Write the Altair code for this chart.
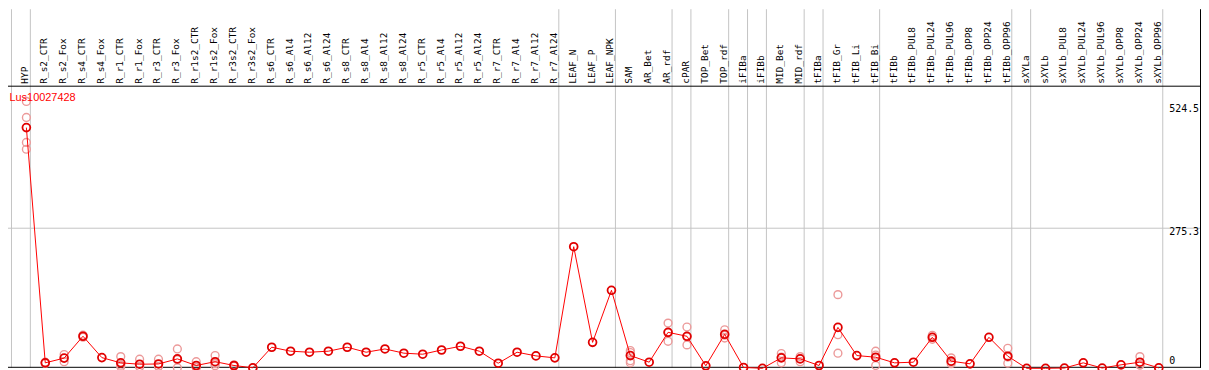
import altair as alt
import pandas as pd

gene = "Lus10027428"

categories = [
    "HYP", "R_s2_CTR", "R_s2_Fox", "R_s4_CTR", "R_s4_Fox", "R_r1_CTR", "R_r1_Fox",
    "R_r3_CTR", "R_r3_Fox", "R_r1s2_CTR", "R_r1s2_Fox", "R_r3s2_CTR", "R_r3s2_Fox",
    "R_s6_CTR", "R_s6_Al4", "R_s6_Al12", "R_s6_Al24", "R_s8_CTR", "R_s8_Al4",
    "R_s8_Al12", "R_s8_Al24", "R_r5_CTR", "R_r5_Al4", "R_r5_Al12", "R_r5_Al24",
    "R_r7_CTR", "R_r7_Al4", "R_r7_Al12", "R_r7_Al24", "LEAF_N", "LEAF_P", "LEAF_NPK",
    "SAM", "AR_Bet", "AR_rdf", "cPAR", "TOP_Bet", "TOP_rdf", "iFIBa", "iFIBb",
    "MID_Bet", "MID_rdf", "tFIBa", "tFIB_Gr", "tFIB_Li", "tFIB_Bi", "tFIBb",
    "tFIBb_PUL8", "tFIBb_PUL24", "tFIBb_PUL96", "tFIBb_OPP8", "tFIBb_OPP24",
    "tFIBb_OPP96", "sXYLa", "sXYLb", "sXYLb_PUL8", "sXYLb_PUL24", "sXYLb_PUL96",
    "sXYLb_OPP8", "sXYLb_OPP24", "sXYLb_OPP96",
]

means = [
    473.1, 10.7, 20, 63, 21, 10.7, 8, 8.5, 18.5, 5.5, 13, 5.5, 1,
    41.4, 33.6, 31.6, 33.6, 41.4, 31.6, 38, 29.7, 27.7, 36, 43.3, 33.6,
    10, 31.6, 24.4, 20.5, 239, 51, 153.3,
    25, 12, 70.7, 62.9, 4.9, 66.8, 1.6, 0, 20.5, 18.5, 5.5, 80.4, 25, 21.8, 10.7,
    12, 60.9, 14, 8.8, 60.9, 23.8, 0, 0, 0.5, 10.7, 0.5, 6.8, 12, 0.8,
]

rep_cat = (
    ["HYP"] * 4 + ["R_s2_CTR"] * 2 + ["R_s2_Fox"] * 2 + ["R_s4_CTR"] * 2
    + ["R_r1_CTR"] * 3 + ["R_r1_Fox"] * 3 + ["R_r3_CTR"] * 3 + ["R_r3_Fox"] * 3
    + ["R_r1s2_CTR"] * 3 + ["R_r1s2_Fox"] * 3 + ["R_r3s2_CTR"] * 2 + ["R_r3s2_Fox"]
    + ["SAM"] * 4 + ["AR_rdf"] * 3 + ["cPAR"] * 3 + ["TOP_rdf"] * 3
    + ["MID_Bet"] * 3 + ["MID_rdf"] * 3 + ["tFIB_Gr"] * 3 + ["tFIB_Bi"] * 3
    + ["tFIBb_PUL24"] * 3 + ["tFIBb_PUL96"] * 3 + ["tFIBb_OPP96"] * 3
    + ["sXYLb_OPP24"] * 3
)
rep_val = [
    524.5, 493, 444, 430.5,
    12, 9.5,
    27, 13,
    65, 61,
    23, 6, 3,
    18, 3, 3,
    18, 4, 3.5,
    38, 17, 1,
    13, 2, 1.5,
    25, 5, 9,
    7, 4,
    1,
    35, 31, 15, 11,
    88.8, 70, 53,
    81, 62, 46,
    75.8, 65, 59.5,
    29, 22, 10.7,
    23, 19, 13,
    144.8, 66, 29.7,
    33.6, 26, 5.5,
    64.8, 57, 61,
    20.5, 9, 12.5,
    39.4, 10, 22,
    23, 7, 6,
]

group_ends = [-1, 0, 28, 31, 34, 35, 37, 38, 39, 41, 42, 45, 52, 53, 60]
value_labels = ["524.5", "275.3", "0"]
value_label_pos = [524.5, 275.3, 0]
gridline_values = [275.3]

# ---------------------------------------------------------------------------
W, H = 1201, 362
step = 19.0
x0 = -18.5 / step
xs = alt.Scale(domain=[x0, x0 + W / step], nice=False, zero=False)
ppu = 0.5122
d0 = -0.5 / ppu
ys = alt.Scale(domain=[d0, d0 + H / ppu], nice=False, zero=False)

mean_df = pd.DataFrame({"cat": categories, "idx": list(range(len(categories))), "v": means})
idx_of = {c: i for i, c in enumerate(categories)}
rep_df = pd.DataFrame({"idx": [idx_of[c] for c in rep_cat], "v": rep_val})
sep_df = pd.DataFrame({"sx": [g + 4.0 / step for g in group_ends]})
grid_df = pd.DataFrame({"gv": gridline_values})
one = pd.DataFrame({"k": [0]})

X = lambda f: alt.X(f, type="quantitative", scale=xs, axis=None)
Y = lambda f: alt.Y(f, type="quantitative", scale=ys, axis=None)

base = alt.Chart(mean_df)
single = alt.Chart(one)

seps = alt.Chart(sep_df).mark_rule(color="#c4c4c4", strokeWidth=1).encode(
    x=X("sx"), y=alt.value(0), y2=alt.value(361)
)
grid = alt.Chart(grid_df).mark_rule(color="#c4c4c4", strokeWidth=1).encode(
    y=Y("gv"), x=alt.value(0), x2=alt.value(1200)
)
header_line = single.mark_rule(color="black", strokeWidth=1).encode(
    y=alt.value(77.5), x=alt.value(0), x2=alt.value(1201)
)
bottom_line = single.mark_rule(color="black", strokeWidth=1).encode(
    y=alt.value(360.5), x=alt.value(0), x2=alt.value(1201)
)
right_line = single.mark_rule(color="black", strokeWidth=1).encode(
    x=alt.value(1200.5), y=alt.value(0), y2=alt.value(361)
)

reps = alt.Chart(rep_df).mark_point(
    shape="circle", filled=False, size=62, color="#ec9a9a", strokeWidth=1.4, opacity=1
).encode(x=X("idx"), y=Y("v"))

line = base.mark_line(color="#ff0000", strokeWidth=1).encode(x=X("idx"), y=Y("v"))

pts = base.mark_point(
    shape="circle", filled=False, size=62, color="#e00000", strokeWidth=1.8, opacity=1
).encode(x=X("idx"), y=Y("v"))

cat_labels = base.mark_text(
    angle=270, align="left", baseline="middle", font="DejaVu Sans Mono",
    fontSize=9.5, color="black"
).encode(x=X("idx"), xOffset=alt.value(-1), y=alt.value(75), text="cat:N")

title = single.mark_text(
    text=gene, align="left", baseline="middle", font="Liberation Sans",
    fontSize=11, color="#ff0000"
).encode(x=alt.value(1.5), y=alt.value(89))

layers = [seps, grid, header_line, bottom_line, right_line, reps, line, pts, cat_labels, title]

offsets = [7.5, 3.5, -7.5]
for lab, pos, off in zip(value_labels, value_label_pos, offsets):
    layers.append(
        alt.Chart(pd.DataFrame({"p": [pos]})).mark_text(
            text=lab, align="left", baseline="middle", font="DejaVu Sans Mono",
            fontSize=10, color="black"
        ).encode(x=alt.value(1169), y=Y("p"), yOffset=alt.value(off))
    )

chart = alt.layer(*layers).properties(
    width=W, height=H, autosize=alt.AutoSizeParams(type="none"), padding=0,
    background="white"
).configure_view(stroke=None)

chart.save("out.html", embed_options={"renderer": "svg", "actions": False})
